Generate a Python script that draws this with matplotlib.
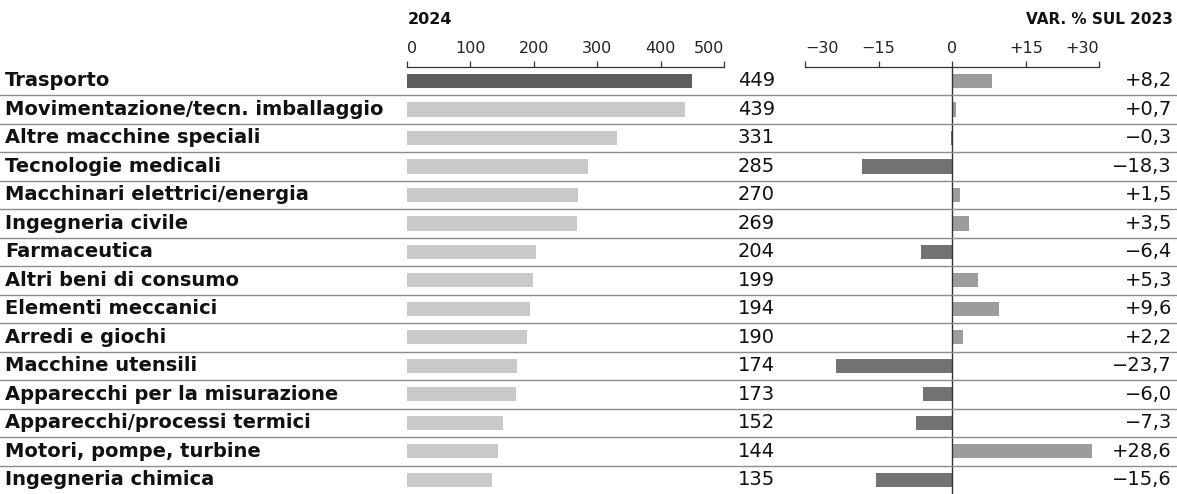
import matplotlib
matplotlib.use("Agg")
import matplotlib.pyplot as plt
import matplotlib.transforms as mtransforms

categories = [
    "Trasporto", "Movimentazione/tecn. imballaggio", "Altre macchine speciali",
    "Tecnologie medicali", "Macchinari elettrici/energia", "Ingegneria civile",
    "Farmaceutica", "Altri beni di consumo", "Elementi meccanici",
    "Arredi e giochi", "Macchine utensili", "Apparecchi per la misurazione",
    "Apparecchi/processi termici", "Motori, pompe, turbine", "Ingegneria chimica",
]
values_2024 = [449, 439, 331, 285, 270, 269, 204, 199, 194, 190, 174, 173, 152, 144, 135]
var_pct = [8.2, 0.7, -0.3, -18.3, 1.5, 3.5, -6.4, 5.3, 9.6, 2.2, -23.7, -6.0, -7.3, 28.6, -15.6]
left_ticks = [0, 100, 200, 300, 400, 500]
right_ticks = [-30, -15, 0, 15, 30]
right_tick_labels = ["\u221230", "\u221215", "0", "+15", "+30"]

W, H = 1177, 494
fig = plt.figure(figsize=(W / 100, H / 100), dpi=100)
fig.patch.set_facecolor("white")

top_px = 66.75
ax1 = fig.add_axes([406.7 / W, 0, (724 - 406.7) / W, (H - top_px) / H])
ax2 = fig.add_axes([805 / W, 0, (1099.3 - 805) / W, (H - top_px) / H])

n = len(categories)
ys = list(range(n))
left_colors = ["#5e5e5e"] + ["#c9c9c9"] * (n - 1)
right_colors = ["#737373" if v < 0 else "#9c9c9c" for v in var_pct]

ax1.barh(ys, values_2024, height=0.5, color=left_colors, edgecolor="none")
ax2.barh(ys, var_pct, height=0.5, color=right_colors, edgecolor="none")

for ax, lim in ((ax1, (0, 500)), (ax2, (-30, 30))):
    ax.set_xlim(*lim)
    ax.set_ylim(n - 0.5, -0.5)
    ax.set_facecolor("none")
    for s in ("left", "right", "bottom"):
        ax.spines[s].set_visible(False)
    ax.spines["top"].set_color("#333333")
    ax.spines["top"].set_linewidth(0.9)
    ax.set_yticks([])
    ax.xaxis.set_ticks_position("top")
    ax.tick_params(axis="x", direction="out", length=4, width=0.9, color="#333333",
                   pad=4, labelsize=11.5, labelcolor="#222222")

ax1.set_xticks(left_ticks)
ax1.set_xticklabels([str(t) for t in left_ticks])
ax2.set_xticks(right_ticks)
ax2.set_xticklabels(right_tick_labels)
for ax in (ax1, ax2):
    labs = ax.get_xticklabels()
    labs[0].set_horizontalalignment("left")
    labs[-1].set_horizontalalignment("right")

ax2.axvline(0, color="#333333", lw=1.0, zorder=3)

# separators across the full width
trans_sep = mtransforms.blended_transform_factory(fig.transFigure, ax1.transData)
for i in range(n - 1):
    fig.add_artist(plt.Line2D([0, 1], [i + 0.5, i + 0.5], transform=trans_sep,
                              color="#8c8c8c", lw=1.0))

for i, (c, v, p) in enumerate(zip(categories, values_2024, var_pct)):
    fig.text(5 / W, 0, c, transform=trans_sep, fontsize=14, fontweight="bold",
             ha="left", va="center", color="#111111").set_y(i)
    t = fig.text(775 / W, 0, str(v), transform=trans_sep, fontsize=14,
                 ha="right", va="center", color="#111111")
    t.set_y(i)
    s = ("+" if p >= 0 else "\u2212") + f"{abs(p):.1f}".replace(".", ",")
    t2 = fig.text(1172 / W, 0, s, transform=trans_sep, fontsize=14,
                  ha="right", va="center", color="#111111")
    t2.set_y(i)

fig.text(407.7 / W, 1 - 19.5 / H, "2024", fontsize=11.5, fontweight="bold",
         ha="left", va="center", color="#111111")
fig.text(1172.7 / W, 1 - 19.5 / H, "VAR. % SUL 2023", fontsize=11, fontweight="bold",
         ha="right", va="center", color="#111111")

fig.savefig("out.png", dpi=100, facecolor="white")
